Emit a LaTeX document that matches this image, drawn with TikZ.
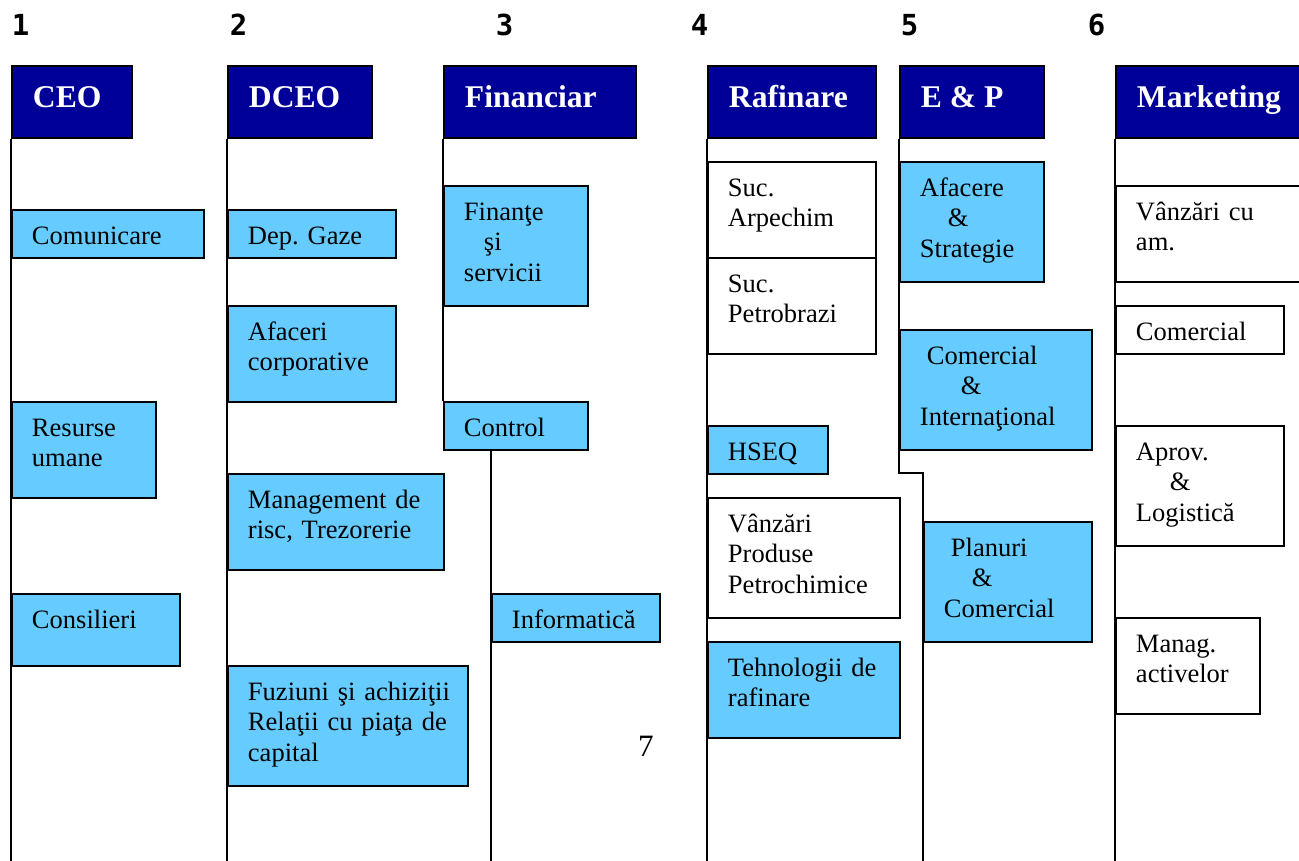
\documentclass[tikz,border=0pt]{standalone}
\usepackage{fontspec}
\setmainfont{Liberation Serif}
\newfontfamily\numfont{DejaVu Sans Mono}
\usetikzlibrary{positioning}
\definecolor{headblue}{HTML}{000099}
\definecolor{cellblue}{HTML}{66CCFF}
\frenchspacing

\begin{document}
\begin{tikzpicture}[x=0.02cm,y=-0.02cm,line width=1.1pt,
		head/.style={draw, fill=headblue, anchor=north west, minimum height=1.44cm, inner sep=0pt},
		cell/.style={draw, fill=cellblue, anchor=north west, inner sep=0pt},
		plain/.style={draw, fill=white, anchor=north west, inner sep=0pt},
		headtxt/.style={anchor=base west, inner sep=0pt, text=white, font=\fontsize{18}{21}\selectfont\bfseries},
		txt/.style={anchor=base west, inner sep=0pt, text width=5cm, align=left, font=\fontsize{15.1}{17.6}\selectfont},
		num/.style={anchor=base, inner sep=0pt, font=\numfont\fontsize{16.5}{18}\selectfont\bfseries}]

		\useasboundingbox (0,0) rectangle (1299,860);

		%% Column numbers
		\foreach \x/\n in {20.5/1, 238.5/2, 504.5/3, 699.5/4, 909.5/5, 1096.5/6}
			\node (num\n) at (\x,35) [num] {\n};
		\node (page) at (646,756) [anchor=base, inner sep=0pt, font=\fontsize{17.7}{20}\selectfont] {7};

		% CEO
		\begin{scope}
			\node (ceo) at (11,65) [head, minimum width=2.4cm] {};
			\node (ceo_t) at ([shift={(21,42)}]ceo.north west) [headtxt] {CEO};
			\node (comunicare) at (11,209) [cell, minimum width=3.84cm, minimum height=0.96cm] {};
			\node (comunicare_t) at ([shift={(20,35)}]comunicare.north west) [txt] {Comunicare};
			\node (resurse) at (11,401) [cell, minimum width=2.88cm, minimum height=1.92cm] {};
			\node (resurse_t) at ([shift={(20,35)}]resurse.north west) [txt] {Resurse\\umane};
			\node (consilieri) at (11,593) [cell, minimum width=3.36cm, minimum height=1.44cm] {};
			\node (consilieri_t) at ([shift={(20,35)}]consilieri.north west) [txt] {Consilieri};
			\coordinate (ceo_end) at (11,862);
		\end{scope}

		% DCEO
		\begin{scope}
			\node (dceo) at (227,65) [head, minimum width=2.88cm] {};
			\node (dceo_t) at ([shift={(21,42)}]dceo.north west) [headtxt] {DCEO};
			\node (gaze) at (227,209) [cell, minimum width=3.36cm, minimum height=0.96cm] {};
			\node (gaze_t) at ([shift={(20,35)}]gaze.north west) [txt] {Dep. Gaze};
			\node (afaceri) at (227,305) [cell, minimum width=3.36cm, minimum height=1.92cm] {};
			\node (afaceri_t) at ([shift={(20,35)}]afaceri.north west) [txt] {Afaceri\\corporative};
			\node (risc) at (227,473) [cell, minimum width=4.32cm, minimum height=1.92cm] {};
			\node (risc_t) at ([shift={(20,35)}]risc.north west) [txt] {Management de\\risc, Trezorerie};
			\node (fuziuni) at (227,665) [cell, minimum width=4.8cm, minimum height=2.4cm] {};
			\node (fuziuni_t) at ([shift={(20,35)}]fuziuni.north west) [txt] {Fuziuni şi achiziţii\\Relaţii cu piaţa de\\capital};
			\coordinate (dceo_end) at (227,862);
		\end{scope}

		% Financiar
		\begin{scope}
			\node (fin) at (443,65) [head, minimum width=3.84cm] {};
			\node (fin_t) at ([shift={(21,42)}]fin.north west) [headtxt] {Financiar};
			\node (finante) at (443,185) [cell, minimum width=2.88cm, minimum height=2.4cm] {};
			\node (finante_t) at ([shift={(20,35)}]finante.north west) [txt] {Finanţe\\\hspace*{0.4cm}şi\\servicii};
			\node (control) at (443,401) [cell, minimum width=2.88cm, minimum height=0.96cm] {};
			\node (control_t) at ([shift={(20,35)}]control.north west) [txt] {Control};
			\node (info) at (491,593) [cell, minimum width=3.36cm, minimum height=0.96cm] {};
			\node (info_t) at ([shift={(20,35)}]info.north west) [txt] {Informatică};
			\coordinate (fin_end) at (491,862);
		\end{scope}

		% Rafinare
		\begin{scope}
			\node (raf) at (707,65) [head, minimum width=3.36cm] {};
			\node (raf_t) at ([shift={(21,42)}]raf.north west) [headtxt] {Rafinare};
			\node (arpechim) at (707,161) [plain, minimum width=3.36cm, minimum height=1.92cm] {};
			\node (arpechim_t) at ([shift={(20,35)}]arpechim.north west) [txt] {Suc.\\Arpechim};
			\node (petrobrazi) at (707,257) [plain, minimum width=3.36cm, minimum height=1.92cm] {};
			\node (petrobrazi_t) at ([shift={(20,35)}]petrobrazi.north west) [txt] {Suc.\\Petrobrazi};
			\node (hseq) at (707,425) [cell, minimum width=2.4cm, minimum height=0.96cm] {};
			\node (hseq_t) at ([shift={(20,35)}]hseq.north west) [txt] {HSEQ};
			\node (petrochim) at (707,497) [plain, minimum width=3.84cm, minimum height=2.4cm] {};
			\node (petrochim_t) at ([shift={(20,35)}]petrochim.north west) [txt] {Vânzări\\Produse\\Petrochimice};
			\node (tehno) at (707,641) [cell, minimum width=3.84cm, minimum height=1.92cm] {};
			\node (tehno_t) at ([shift={(20,35)}]tehno.north west) [txt] {Tehnologii de\\rafinare};
			\coordinate (raf_end) at (707,862);
		\end{scope}

		% E & P
		\begin{scope}
			\node (ep) at (899,65) [head, minimum width=2.88cm] {};
			\node (ep_t) at ([shift={(21,42)}]ep.north west) [headtxt] {E \& P};
			\node (strategie) at (899,161) [cell, minimum width=2.88cm, minimum height=2.4cm] {};
			\node (strategie_t) at ([shift={(20,35)}]strategie.north west) [txt] {Afacere\\\hspace*{0.56cm}\&\\Strategie};
			\node (intl) at (899,329) [cell, minimum width=3.84cm, minimum height=2.4cm] {};
			\node (intl_t) at ([shift={(20,35)}]intl.north west) [txt] {\hspace*{0.14cm}Comercial\\\hspace*{0.82cm}\&\\Internaţional};
			\node (planuri) at (923,521) [cell, minimum width=3.36cm, minimum height=2.4cm] {};
			\node (planuri_t) at ([shift={(20,35)}]planuri.north west) [txt] {\hspace*{0.14cm}Planuri\\\hspace*{0.56cm}\&\\Comercial};
			\coordinate (ep_step) at (899,473);
			\coordinate (ep_end) at (923,862);
		\end{scope}

		% Marketing
		\begin{scope}
			\node (mkt) at (1115,65) [head, minimum width=4cm] {};
			\node (mkt_t) at ([shift={(21,42)}]mkt.north west) [headtxt] {Marketing};
			\node (vanzari) at (1115,185) [plain, minimum width=4cm, minimum height=1.92cm] {};
			\node (vanzari_t) at ([shift={(20,35)}]vanzari.north west) [txt] {Vânzări cu\\am.};
			\node (comercial) at (1115,305) [plain, minimum width=3.36cm, minimum height=0.96cm] {};
			\node (comercial_t) at ([shift={(20,35)}]comercial.north west) [txt] {Comercial};
			\node (aprov) at (1115,425) [plain, minimum width=3.36cm, minimum height=2.4cm] {};
			\node (aprov_t) at ([shift={(20,35)}]aprov.north west) [txt] {Aprov.\\\hspace*{0.68cm}\&\\Logistică};
			\node (manag) at (1115,617) [plain, minimum width=2.88cm, minimum height=1.92cm] {};
			\node (manag_t) at ([shift={(20,35)}]manag.north west) [txt] {Manag.\\activelor};
			\coordinate (mkt_end) at (1115,862);
		\end{scope}

		%% Edges
		\draw (ceo.south west) -- (ceo_end);
		\draw (dceo.south west) -- (dceo_end);
		\draw (fin.south west) -- (control.north west);
		\draw (info.west |- control.south) -- (fin_end);
		\draw (raf.south west) -- (raf_end);
		\draw (ep.south west) -- (ep_step) -| (ep_end);
		\draw (mkt.south west) -- (mkt_end);
	\end{tikzpicture}
\end{document}
